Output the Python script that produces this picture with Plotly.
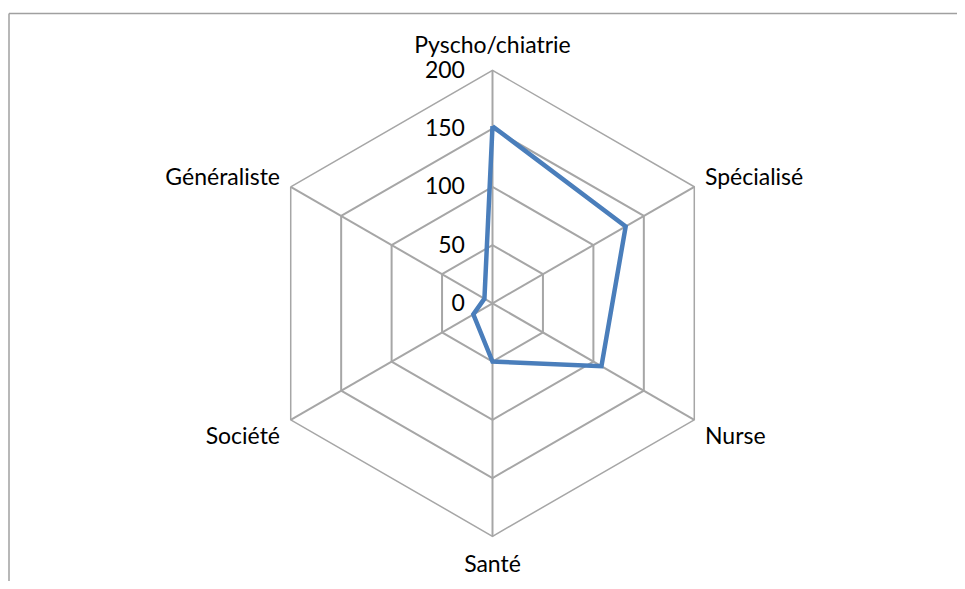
import plotly.graph_objects as go

categories = ["Pyscho/chiatrie", "Spécialisé", "Nurse", "Santé", "Société", "Généraliste"]
values = [152, 132, 108, 50, 19, 8]
radial_ticks = [0, 50, 100, 150, 200]

# page body has an 8px margin: work in figure coordinates offset by 8px
OFF = 8
W, H = 965 - 2 * OFF, 589 - 2 * OFF
cx, cy, R = 492.5 - OFF, 303.3 - OFF, 233

fig = go.Figure()
fig.add_trace(go.Scatterpolar(
    r=values + [values[0]],
    theta=categories + [categories[0]],
    mode="lines",
    line=dict(color="#4A7EBB", width=4.5),
    showlegend=False,
    hoverinfo="skip",
))

border = dict(color="#A0A0A0", width=1.5)
top_y = (H - (13.5 - OFF)) / H
left_x = (9 - OFF) / W

fig.update_layout(
    width=W, height=H,
    margin=dict(l=0, r=0, t=0, b=0),
    paper_bgcolor="white",
    font=dict(family="Lato, Carlito, sans-serif", size=23, color="#000000"),
    polar=dict(
        domain=dict(x=[(cx - R) / W, (cx + R) / W], y=[(H - cy - R) / H, (H - cy + R) / H]),
        bgcolor="white",
        gridshape="linear",
        angularaxis=dict(
            direction="clockwise", rotation=90,
            showline=True, linecolor="#A6A6A6", linewidth=1.5,
            gridcolor="#A6A6A6", gridwidth=1.5,
            ticks="outside", ticklen=7, tickcolor="rgba(0,0,0,0)",
            tickfont=dict(size=23),
        ),
        radialaxis=dict(
            range=[0, 200], tickvals=radial_ticks, ticktext=[str(v) for v in radial_ticks],
            angle=90, tickangle=90, side="counterclockwise",
            showline=False, gridcolor="#A6A6A6", gridwidth=1.5,
            ticks="outside", ticklen=19, tickcolor="rgba(0,0,0,0)",
            tickfont=dict(size=23),
        ),
    ),
    shapes=[
        dict(type="line", xref="paper", yref="paper", x0=left_x, x1=1.0, y0=top_y, y1=top_y, line=border),
        dict(type="line", xref="paper", yref="paper", x0=left_x, x1=left_x, y0=0.0, y1=top_y, line=border),
    ],
)

fig.write_html("out.html")
